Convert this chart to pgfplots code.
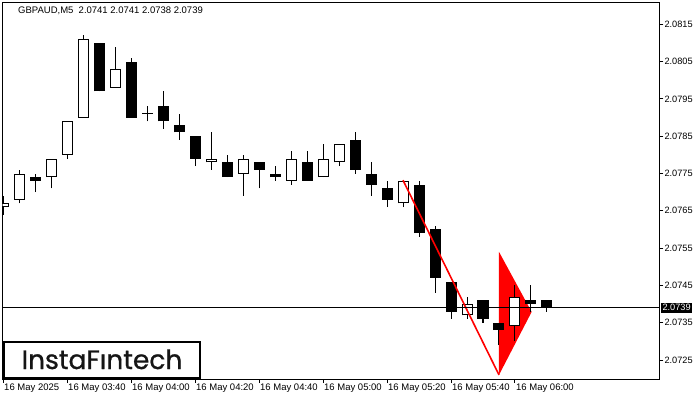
\documentclass[border=0pt]{standalone}
\usepackage{fontspec}
\setmainfont{Liberation Sans}
\newfontfamily\logofont{Poppins}[FakeBold=0.8]
\usepackage{pgfplots}
\pgfplotsset{compat=1.18}
\definecolor{logogray}{HTML}{151515}
% \bcandle / \wcandle {position}{low}{body bottom}{body top}{high}
\newcommand\bcandle[5]{%
  \addplot[black, line width=1pt] coordinates {(#1,#2) (#1,#5)};
  \addplot[black, line width=11pt, line cap=butt] coordinates {(#1,#3) (#1,#4)};}
\newcommand\wcandle[5]{%
  \addplot[black, line width=1pt] coordinates {(#1,#2) (#1,#5)};
  \addplot[black, line width=11pt, line cap=butt] coordinates {(#1,#3) (#1,#4)};
  \addplot[white, line width=9pt, line cap=butt, shorten >=1pt, shorten <=1pt] coordinates {(#1,#3) (#1,#4)};}
\begin{document}
\begin{tikzpicture}
\useasboundingbox (0pt,0pt) rectangle (700pt,400pt);
\begin{axis}[
  at={(2.7pt,21pt)}, anchor=south west, scale only axis,
  width=656.6pt, height=376.7pt,
  % prices are shown in pips above 2.0700 internally
  y filter/.expression={(y-2.07)*10000},
  xmin=-0.02, xmax=41.02, ymin=19.91, ymax=120.9,
  axis line style={line width=1pt},
  tick style={black, line width=1pt},
  major tick length=4pt, tick align=outside,
  xtick pos=left, ytick pos=right, yticklabel pos=right,
  xtick={0,4,8,12,16,20,24,28,32},
  xticklabels={16 May 2025,16 May 03:40,16 May 04:00,16 May 04:20,16 May 04:40,16 May 05:00,16 May 05:20,16 May 05:40,16 May 06:00},
  ytick={25,35,45,55,65,75,85,95,105,115},
  yticklabels={2.0725,2.0735,2.0745,2.0755,2.0765,2.0775,2.0785,2.0795,2.0805,2.0815},
  xticklabel style={anchor=north west, inner sep=0pt, xshift=1pt, yshift=-1pt, font=\fontsize{9.5}{10}\selectfont},
  yticklabel style={anchor=west, inner sep=0pt, xshift=1pt, font=\fontsize{9.2}{10}\selectfont},
]
% pennant triangle
\addplot[fill=red, draw=none] coordinates {(31,2.0754) (31,2.0721) (33.04,2.07379) (31,2.0754)};
% candles: position, low, body bottom, body top, high
\wcandle{0}{2.0764}{2.0766}{2.0767}{2.0769}
\wcandle{1}{2.0767}{2.0768}{2.0775}{2.0776}
\bcandle{2}{2.0770}{2.0773}{2.0774}{2.0775}
\wcandle{3}{2.0771}{2.0774}{2.0779}{2.0779}
\wcandle{4}{2.0779}{2.0780}{2.0789}{2.0789}
\wcandle{5}{2.0790}{2.0790}{2.0811}{2.0812}
\bcandle{6}{2.0797}{2.0797}{2.0810}{2.0810}
\wcandle{7}{2.0798}{2.0798}{2.0803}{2.0809}
\bcandle{8}{2.0790}{2.0790}{2.0805}{2.0806}
\bcandle{9}{2.0789}{2.07910}{2.07913}{2.0793}
\bcandle{10}{2.0787}{2.0789}{2.0793}{2.0797}
\bcandle{11}{2.0784}{2.0786}{2.0788}{2.0791}
\bcandle{12}{2.0777}{2.0779}{2.0785}{2.0785}
\wcandle{13}{2.0776}{2.0778}{2.0779}{2.0786}
\bcandle{14}{2.0774}{2.0774}{2.0778}{2.0780}
\wcandle{15}{2.0769}{2.0775}{2.0779}{2.0780}
\bcandle{16}{2.0771}{2.0776}{2.0778}{2.0778}
\bcandle{17}{2.0773}{2.0774}{2.0775}{2.0777}
\wcandle{18}{2.0772}{2.0773}{2.0779}{2.0781}
\bcandle{19}{2.0773}{2.0773}{2.0778}{2.0781}
\wcandle{20}{2.0774}{2.0774}{2.0779}{2.0783}
\wcandle{21}{2.0777}{2.0778}{2.0783}{2.0783}
\bcandle{22}{2.0775}{2.0776}{2.0784}{2.0786}
\bcandle{23}{2.0769}{2.0772}{2.0775}{2.0778}
\bcandle{24}{2.0766}{2.0768}{2.0771}{2.0773}
\wcandle{25}{2.0766}{2.0767}{2.0773}{2.0773}
\bcandle{26}{2.0758}{2.0759}{2.0772}{2.0773}
\bcandle{27}{2.0743}{2.0747}{2.0760}{2.0761}
\bcandle{28}{2.0736}{2.0738}{2.0746}{2.0746}
\wcandle{29}{2.0736}{2.0737}{2.0740}{2.0742}
\bcandle{30}{2.0735}{2.0736}{2.0741}{2.0741}
\bcandle{31}{2.0729}{2.0733}{2.0735}{2.0735}
\wcandle{32}{2.0730}{2.0734}{2.0742}{2.0745}
\bcandle{33}{2.0738}{2.0740}{2.0741}{2.0745}
\bcandle{34}{2.0738}{2.0739}{2.0741}{2.0741}
% pennant pole
\addplot[red, line width=1.6pt] coordinates {(25,2.07732) (31,2.07210)};
% bid line
\addplot[black, line width=1pt] coordinates {(-1,2.0739) (42,2.0739)};
\coordinate (pl) at (axis cs:41.02,39);
\end{axis}
\node[fill=black, text=white, anchor=west, inner xsep=1.5pt, inner ysep=1.5pt, font=\fontsize{9.2}{10}\selectfont] at ([xshift=1.5pt]pl) {2.0739};
\node[anchor=west, inner sep=0pt, font=\fontsize{9.5}{10}\selectfont] at (18pt,389.5pt) {GBPAUD,M5\ \ 2.0741 2.0741 2.0738 2.0739};
\draw[line width=2pt, fill=white] (3.5pt,22.5pt) rectangle (200.3pt,58.3pt);
\node[anchor=base, inner sep=0pt, text=logogray, font=\logofont\fontsize{26.5}{30}\selectfont] at (102pt,31pt) {InstaFıntech};
\end{tikzpicture}
\end{document}
